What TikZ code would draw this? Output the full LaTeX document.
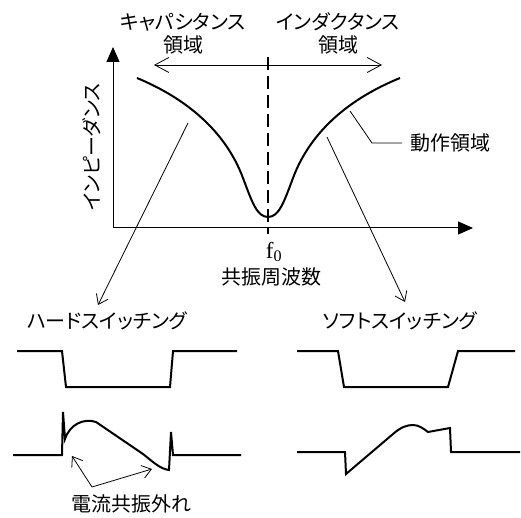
\documentclass[tikz,border=0pt]{standalone}
\usepackage{fontspec}
\newfontfamily\jp{Noto Sans CJK JP}
\newfontfamily\jpk[CharacterWidth=AlternateProportional]{Noto Sans CJK JP}
\newfontfamily\serif{Liberation Serif}
\usetikzlibrary{arrows.meta}
\begin{document}
\begin{tikzpicture}[x=1pt,y=-1pt,
  jlab/.style={font=\jp\fontsize{20}{20}\selectfont, inner sep=0pt},
  klab/.style={font=\jpk\fontsize{20}{20}\selectfont, inner sep=0pt},
  axisline/.style={line width=1pt, -{Triangle[length=15pt,width=13pt]}},
  curveline/.style={line width=2pt},
  waveline/.style={line width=2pt, line join=miter},
  thinarrow/.style={line width=0.8pt, -{Straight Barb[length=9pt,width=13pt]}},
  thinline/.style={line width=0.8pt},
  dashline/.style={line width=2pt, dash pattern=on 13pt off 6pt}]
\useasboundingbox (0,0) rectangle (521,518);
% axes
\coordinate (O) at (113,228);
\coordinate (ytip) at (113,47);
\coordinate (xtip) at (473,228);
\draw[axisline] (O) -- (ytip);
\draw[axisline] (O) -- (xtip);
% dashed resonance line
\coordinate (dtop) at (268,57);
\coordinate (dbot) at (268,234);
\draw[dashline] (dtop) -- (dbot);
% region double arrow
\coordinate (rl) at (154,65);
\coordinate (rr) at (382,65);
\draw[line width=0.8pt, {Straight Barb[length=14pt,width=15pt]}-{Straight Barb[length=14pt,width=15pt]}] (rl) -- (rr);
% impedance curve
\coordinate (iL) at (137,78);
\coordinate (iM) at (268,217);
\coordinate (iR) at (400,78);
\draw[curveline] (iL) .. controls (185,98) and (225,130) .. (243,178)
  .. controls (252,202) and (257,217) .. (iM)
  .. controls (279,217) and (284,202) .. (293,178)
  .. controls (311,130) and (351,98) .. (iR);
% texts top
\node[klab] (capA) at (183,22) {キャパシタンス};
\node[jlab] (capB) at (183,45) {領域};
\node[klab] (indA) at (338,22) {インダクタンス};
\node[jlab] (indB) at (338,45) {領域};
\node[klab, rotate=90] (ylab) at (92,147) {インピーダンス};
\node[jlab, anchor=west] (op) at (410,143) {動作領域};
\coordinate (opA) at (350,111);
\coordinate (opB) at (372,143);
\draw[thinline] (opA) -- (opB) -- (op.west -| 402,0);
\node[font=\serif\fontsize{23}{23}\selectfont, inner sep=0pt] (f0) at (274,252) {f\textsubscript{0}};
\node[jlab] (res) at (271,277) {共振周波数};
% arrows to switching types
\coordinate (cL) at (188,123);
\coordinate (tL) at (98,305);
\coordinate (cR) at (327,137);
\coordinate (tR) at (405,302);
\draw[thinarrow] (cL) -- (tL);
\draw[thinarrow] (cR) -- (tR);
\node[klab] (hard) at (107,321) {ハードスイッチング};
\node[klab] (soft) at (400,321) {ソフトスイッチング};
% hard switching waveforms
\draw[waveline] (17,351) -- (62,351) -- (66,387) -- (170,387) -- (173,351) -- (237,351);
\draw[waveline] (13,455) -- (62,455) -- (63,412) -- (65,439)
  .. controls (70,424) and (84,418) .. (96,422)
  -- (143,454) .. controls (152,461) and (160,469) .. (169,470)
  -- (171,432) -- (173,455) -- (241,455);
% soft switching waveforms
\draw[waveline] (297,351) -- (338,351) -- (344,387) -- (448,387) -- (458,351) -- (515,351);
\draw[waveline] (297,452) -- (345,452) -- (346,474) -- (393,434)
  .. controls (401,427) and (407,425) .. (413,425)
  .. controls (419,425) and (424,429) .. (428,432)
  -- (450,428) -- (451,452) -- (520,452);
% current resonance off label
\coordinate (v) at (92,487);
\coordinate (aA) at (72,456);
\coordinate (aB) at (152,469);
\draw[thinarrow] (v) -- (aA);
\draw[thinarrow] (v) -- (aB);
\node[jlab] (cur) at (131,504) {電流共振外れ};
\end{tikzpicture}
\end{document}
